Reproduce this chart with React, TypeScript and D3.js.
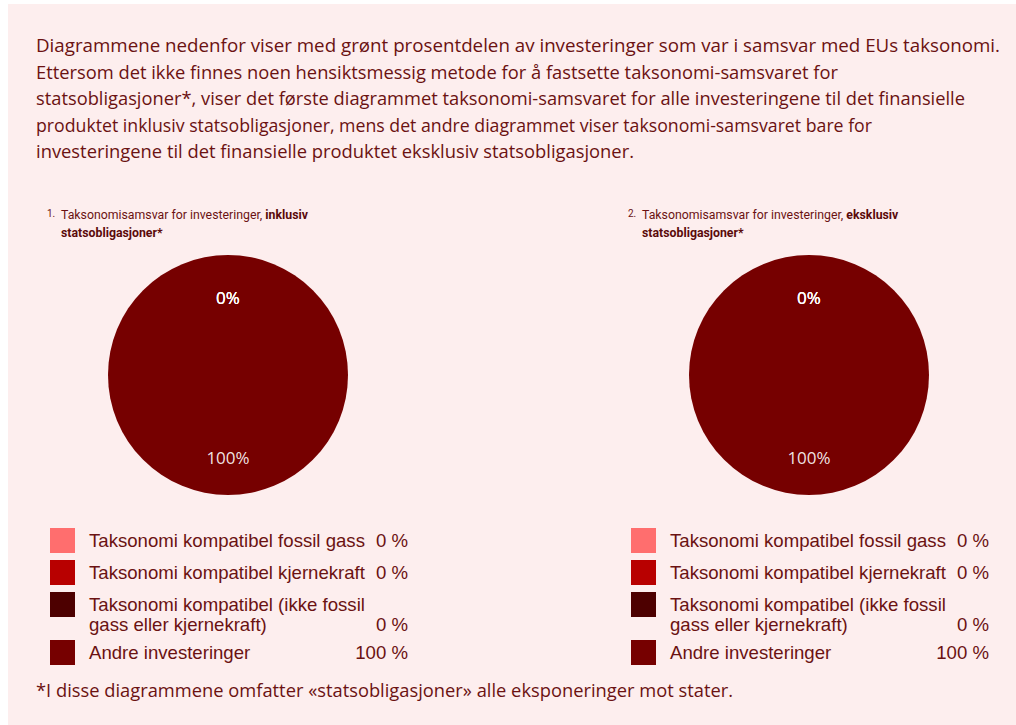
import React from "react";
import * as d3 from "d3";

const categories = [
  ["Taksonomi kompatibel fossil gass"],
  ["Taksonomi kompatibel kjernekraft"],
  ["Taksonomi kompatibel (ikke fossil", "gass eller kjernekraft)"],
  ["Andre investeringer"],
];
const valuesInklusiv = [0, 0, 0, 100];
const valuesEksklusiv = [0, 0, 0, 100];
const sliceColors = ["#ff6e6e", "#b80000", "#4d0000", "#760000"];
const chartNumbers = ["1.", "2."];
const chartTitlesNormal = ["Taksonomisamsvar for investeringer, ", "Taksonomisamsvar for investeringer, "];
const chartTitlesBold = ["inklusiv", "eksklusiv"];
const chartTitlesLine2 = ["statsobligasjoner*", "statsobligasjoner*"];
const introLines = [
  "Diagrammene nedenfor viser med grønt prosentdelen av investeringer som var i samsvar med EUs taksonomi.",
  "Ettersom det ikke finnes noen hensiktsmessig metode for å fastsette taksonomi-samsvaret for",
  "statsobligasjoner*, viser det første diagrammet taksonomi-samsvaret for alle investeringene til det finansielle",
  "produktet inklusiv statsobligasjoner, mens det andre diagrammet viser taksonomi-samsvaret bare for",
  "investeringene til det finansielle produktet eksklusiv statsobligasjoner.",
];
const introWidths = [964, 802, 929, 836, 598];
const footnote = "*I disse diagrammene omfatter «statsobligasjoner» alle eksponeringer mot stater.";

const TEXT = "#6b1212";

function PieBlock({ values, cx, idx }: { values: number[]; cx: number; idx: number }) {
  const cy = 375;
  const r = 120;
  const pie = d3.pie<number>().sort(null).value((d) => d);
  const arcs = pie(values);
  const arc = d3.arc<d3.PieArcDatum<number>>().innerRadius(0).outerRadius(r);
  const labelArc = d3.arc<d3.PieArcDatum<number>>().innerRadius(80).outerRadius(80);
  const total = d3.sum(values);
  const legendX = cx - 178;
  const rowY = [528, 560, 592, 640];
  return (
    <g>
      <text x={cx - 181} y={217} fontFamily="Roboto, sans-serif" fontSize={10} fill={TEXT}>
        {chartNumbers[idx]}
      </text>
      <text x={cx - 167} y={219} fontFamily="Roboto, sans-serif" fontSize={12.3} fill={TEXT}>
        {chartTitlesNormal[idx]}
        <tspan fontWeight="bold" fill="#5a0a0a">{chartTitlesBold[idx]}</tspan>
      </text>
      <text x={cx - 167} y={237} fontFamily="Roboto, sans-serif" fontSize={12.3} fontWeight="bold" fill="#5a0a0a">
        {chartTitlesLine2[idx]}
      </text>
      <g transform={`translate(${cx},${cy})`}>
        {arcs.map((a, i) => (
          <path key={i} d={arc(a) || ""} fill={sliceColors[i]} />
        ))}
        {arcs.map((a, i) => {
          const [lx, ly] = labelArc.centroid(a);
          return (
            <text
              key={"l" + i}
              x={lx}
              y={ly + 3}
              dy="0.35em"
              textAnchor="middle"
              fontFamily="'Open Sans', sans-serif"
              fontSize={17}
              fill="#ffffff"
              fillOpacity={0.9}
            >
              {Math.round((a.data / total) * 100) + "%"}
            </text>
          );
        })}
      </g>
      {categories.map((lines, i) => (
        <g key={"lg" + i}>
          <rect x={legendX} y={rowY[i]} width={25} height={25} fill={sliceColors[i]} />
          {lines.map((ln, j) => (
            <text
              key={j}
              x={legendX + 39}
              y={rowY[i] + 19 + j * 20}
              fontFamily="'Liberation Sans', Arial, sans-serif"
              fontSize={18.6}
              fill={TEXT}
            >
              {ln}
            </text>
          ))}
          <text
            x={legendX + 358}
            y={rowY[i] + 19 + (lines.length - 1) * 20}
            textAnchor="end"
            fontFamily="'Liberation Sans', Arial, sans-serif"
            fontSize={18.6}
            fill={TEXT}
          >
            {values[i] + " %"}
          </text>
        </g>
      ))}
    </g>
  );
}

export default function App() {
  return (
    <svg
      width={1016}
      height={725}
      style={{ position: "absolute", left: 0, top: 0, display: "block" }}
    >
      <rect x={0} y={0} width={1016} height={725} fill="#ffffff" />
      <rect x={8} y={4} width={1008} height={721} fill="#fdeeee" />
      {introLines.map((ln, i) => (
        <text
          key={i}
          x={36}
          y={52 + i * 26.5}
          fontFamily="'Open Sans', sans-serif"
          fontSize={18}
          fill={TEXT}
          textLength={introWidths[i]}
          lengthAdjust="spacingAndGlyphs"
        >
          {ln}
        </text>
      ))}
      <PieBlock values={valuesInklusiv} cx={228} idx={0} />
      <PieBlock values={valuesEksklusiv} cx={809} idx={1} />
      <text
        x={36}
        y={697}
        fontFamily="'Open Sans', sans-serif"
        fontSize={18}
        fill={TEXT}
        textLength={697}
        lengthAdjust="spacingAndGlyphs"
      >
        {footnote}
      </text>
    </svg>
  );
}
